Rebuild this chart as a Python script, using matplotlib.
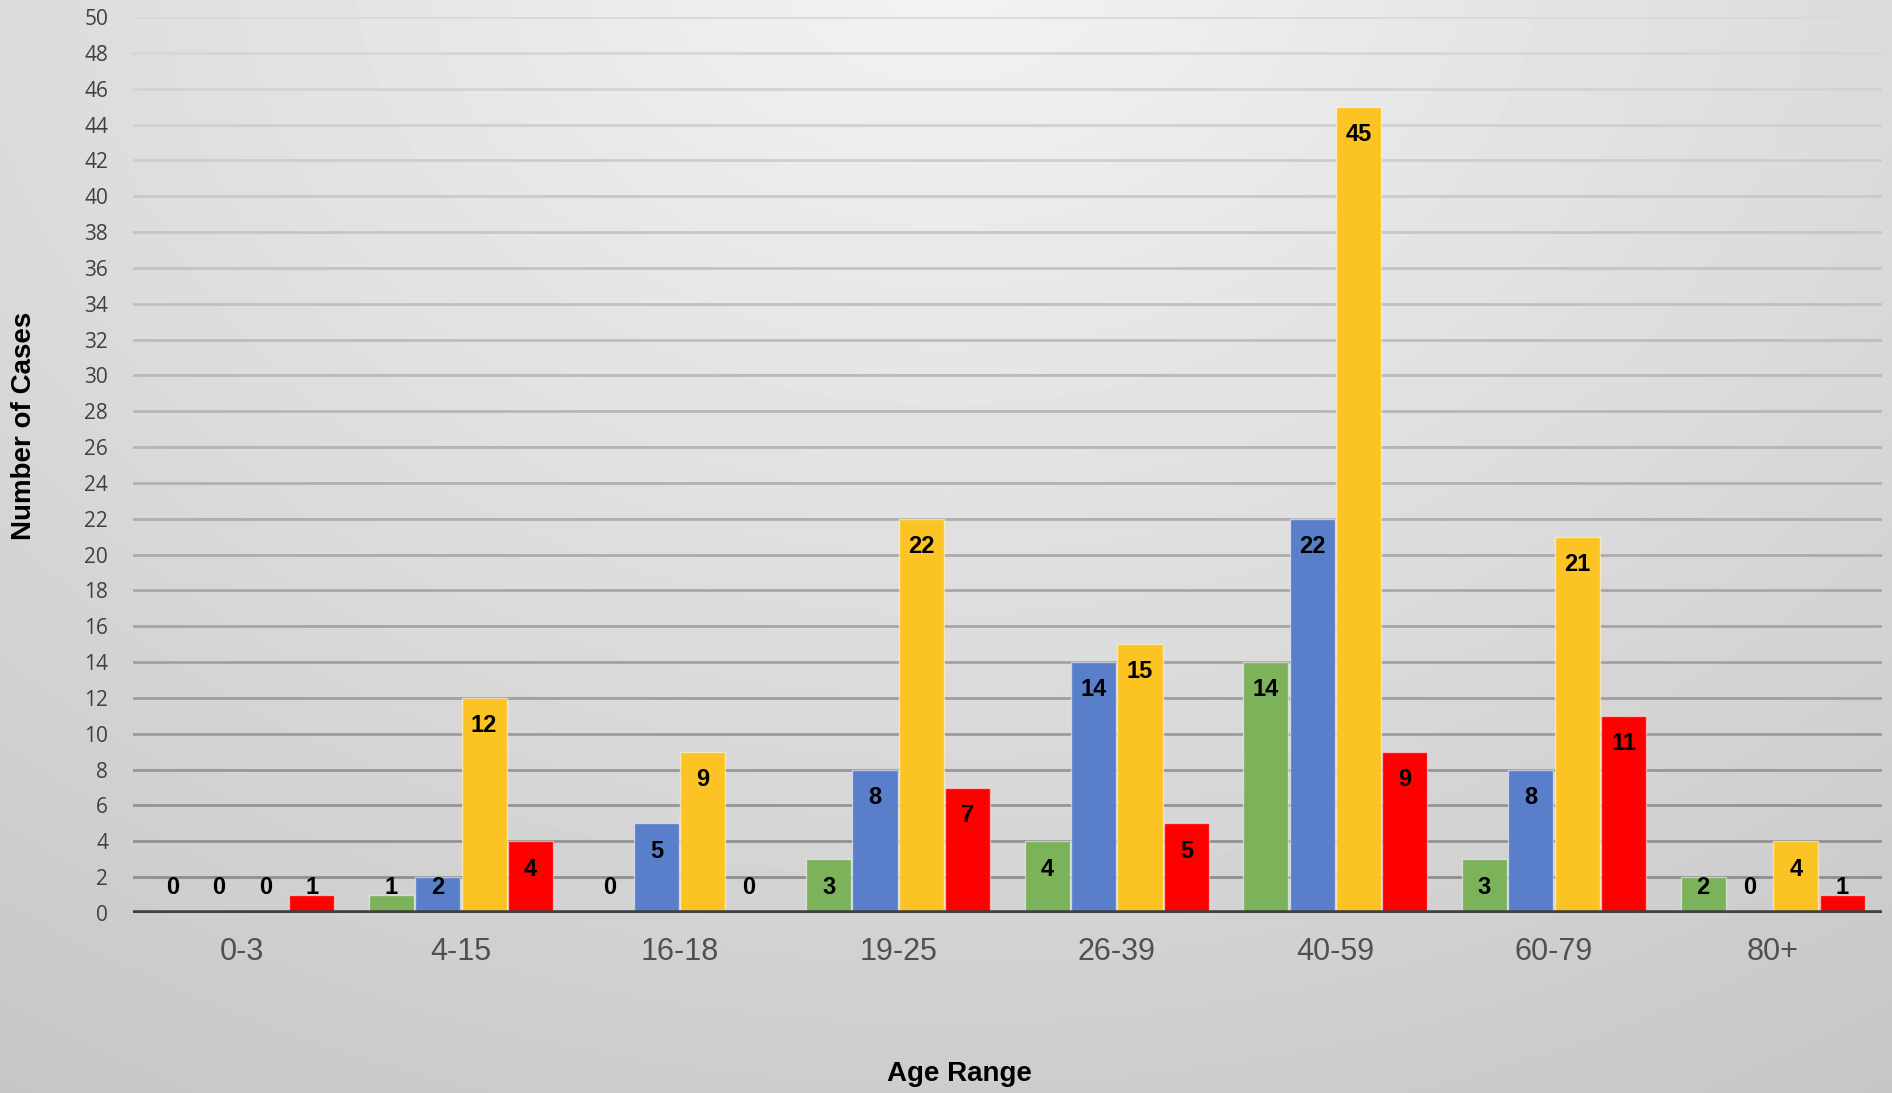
import numpy as np
import matplotlib
matplotlib.use('Agg')
import matplotlib.pyplot as plt

# data
age_ranges = ['0-3', '4-15', '16-18', '19-25', '26-39', '40-59', '60-79', '80+']
green_vals = [0, 1, 0, 3, 4, 14, 3, 2]
blue_vals = [0, 2, 5, 8, 14, 22, 8, 0]
yellow_vals = [0, 12, 9, 22, 15, 45, 21, 4]
red_vals = [1, 4, 0, 7, 5, 9, 11, 1]
y_ticks = list(range(0, 51, 2))

series = [green_vals, blue_vals, yellow_vals, red_vals]
colors = ['#7cb25a', '#5a7fca', '#fbc424', '#ff0000']

W, H = 1892, 1093
fig = plt.figure(figsize=(W / 100, H / 100), dpi=100)

# background gradient (light at top middle, grey towards bottom / sides)
bg = fig.add_axes([0, 0, 1, 1], zorder=-10)
xx, yy = np.meshgrid(np.linspace(0, 1, 400), np.linspace(0, 1, 240))
r = np.sqrt(((xx - 0.5) * 1.2) ** 2 + ((yy - 1.05) * 0.9) ** 2)
shade = np.clip(0.955 - 0.16 * r, 0, 1)
bg.imshow(shade, cmap='gray', vmin=0, vmax=1, origin='lower', aspect='auto',
          extent=[0, 1, 0, 1], interpolation='bilinear')
bg.set_axis_off()

ax = fig.add_axes([133 / W, 1 - 913 / H, (1882 - 133) / W, (913 - 17) / H])
ax.patch.set_alpha(0)

x = np.arange(len(age_ranges))
bw = 0.212
for i, vals in enumerate(series):
    pos = x + (i - 1.5) * bw
    ax.bar(pos, vals, width=bw - 0.006, color=colors[i], edgecolor=(1, 1, 1, 0.5),
           linewidth=1, zorder=3)
    for p, v in zip(pos, vals):
        ax.text(p, max(v - 1.55, 1.4), str(v), ha='center', va='center',
                fontsize=17, fontweight='bold', color='black', zorder=4,
                family=['Liberation Sans Narrow', 'Liberation Sans', 'DejaVu Sans'])

# grid lines, darker towards the bottom
for t in y_ticks[1:]:
    f = t / 50
    c = 0.55 + 0.30 * f
    ax.axhline(t, color=(c, c, c), linewidth=2, zorder=1)
ax.axhline(0, color='#404040', linewidth=4, zorder=5)

ax.set_xlim(-0.5, len(age_ranges) - 0.5)
ax.set_ylim(0, 50)
ax.set_yticks(y_ticks)
ax.set_yticklabels([str(t) for t in y_ticks], fontsize=15, color='#404040', family='Open Sans')
ax.set_xticks(x)
ax.set_xticklabels(age_ranges, fontsize=22, color='#505050', family='Liberation Sans')
ax.tick_params(axis='y', length=0, pad=18)
ax.tick_params(axis='x', length=0, pad=17)
for s in ax.spines.values():
    s.set_visible(False)

fig.text(24 / W, 1 - 426 / H, 'Number of Cases', rotation=90, ha='center', va='center',
         fontsize=20, fontweight='bold', family='Liberation Sans', color='black')
fig.text(959 / W, 1 - 1074 / H, 'Age Range', ha='center', va='center',
         fontsize=20, fontweight='bold', family='Liberation Sans', color='black')

plt.savefig('out.png', dpi=100)
